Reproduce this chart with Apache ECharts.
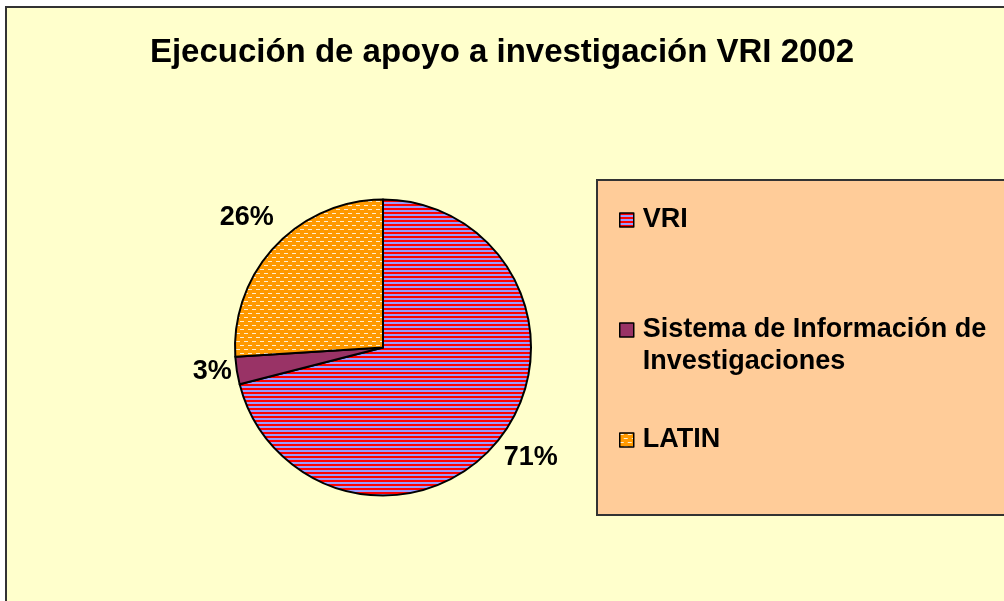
<!DOCTYPE html>
<html>
<head>
<meta charset="utf-8">
<script src="https://cdn.jsdelivr.net/npm/echarts@6/dist/echarts.min.js"></script>
<style>
  html, body { margin: 0; padding: 0; background: #fff; }
  #chart { width: 1004px; height: 601px; }
</style>
</head>
<body>
<div id="chart"></div>
<script>
// datos del gráfico
const titleText = 'Ejecución de apoyo a investigación VRI 2002';
const categories = ['VRI', 'Sistema de Información de Investigaciones', 'LATIN'];
const values = [71, 3, 26];
// línea vacía inicial: deja la primera línea de texto a la altura del icono
const legendLabels = ['VRI', '\nSistema de Información de\nInvestigaciones', 'LATIN'];

const FONT = '"Liberation Sans", Arial, sans-serif';

/**
 * Tramas de relleno (rayas, ladrillos)
 */
function stripePattern() {
    const c = document.createElement('canvas');
    c.width = 4; c.height = 4;
    const ctx = c.getContext('2d');
    ctx.fillStyle = '#9999FF';
    ctx.fillRect(0, 0, 4, 4);
    ctx.fillStyle = '#FF0000';
    ctx.fillRect(0, 0, 4, 2);
    return c;
}

function brickPattern() {
    const c = document.createElement('canvas');
    c.width = 8; c.height = 8;
    const ctx = c.getContext('2d');
    ctx.fillStyle = '#FF9900';
    ctx.fillRect(0, 0, 8, 8);
    ctx.fillStyle = '#FFEFD0';
    ctx.fillRect(0, 1, 4, 1);
    ctx.fillRect(4, 5, 4, 1);
    return c;
}

const sliceColors = [
    { image: stripePattern(), repeat: 'repeat' },
    '#993366',
    { image: brickPattern(), repeat: 'repeat' }
];

// pequeños ajustes de las etiquetas de porcentaje
const labelNudge = [[0, -5], [14, -5], [0, -2]];

const center = [383, 347.5];
const radius = 148;

const pieData = categories.map((name, i) => ({
    name: name,
    value: values[i],
    itemStyle: { color: sliceColors[i] }
}));

function legendFor(idx, top) {
    return {
        orient: 'vertical',
        left: 619,
        top: top,
        padding: 0,
        icon: 'rect',
        itemWidth: 14,
        itemHeight: 14,
        itemStyle: { borderColor: '#000', borderWidth: 1.5 },
        data: [categories[idx]],
        formatter: name => legendLabels[categories.indexOf(name)],
        textStyle: {
            fontFamily: FONT,
            fontSize: 27,
            fontWeight: 'bold',
            color: '#000',
            lineHeight: 32,
            padding: [0, 0, 0, 4]
        }
    };
}

const chart = echarts.init(document.getElementById('chart'));

chart.setOption({
    backgroundColor: '#fff',
    animation: false,
    title: {
        text: titleText,
        left: 'center',
        top: 28,
        textStyle: {
            fontFamily: FONT,
            fontSize: 33,
            fontWeight: 'bold',
            color: '#000',
            lineHeight: 40
        }
    },
    graphic: [
        {
            type: 'rect',
            z: -10,
            shape: { x: 6, y: 7, width: 1100, height: 700 },
            style: { fill: '#FFFFCC', stroke: '#333', lineWidth: 2 }
        },
        {
            type: 'rect',
            z: -5,
            shape: { x: 597, y: 180, width: 500, height: 335 },
            style: { fill: '#FFCC99', stroke: '#333', lineWidth: 2 }
        }
    ],
    legend: [
        legendFor(0, 204),
        legendFor(1, 282),
        legendFor(2, 424)
    ],
    series: [
        {
            type: 'pie',
            center: center,
            radius: radius,
            startAngle: 90,
            clockwise: true,
            data: pieData,
            label: { show: false },
            labelLine: { show: false },
            itemStyle: { borderColor: '#000', borderWidth: 2 },
            emphasis: { disabled: true }
        },
        {
            // serie fantasma sólo para colocar las etiquetas de porcentaje
            type: 'pie',
            silent: true,
            center: center,
            radius: [radius, radius + 72],
            startAngle: 90,
            clockwise: true,
            data: categories.map((name, i) => ({ name: name, value: values[i] })),
            itemStyle: { color: 'transparent', borderWidth: 0 },
            label: {
                show: true,
                position: 'inside',
                formatter: '{d}%',
                fontFamily: FONT,
                fontSize: 27,
                fontWeight: 'bold',
                color: '#000'
            },
            labelLayout: params => ({
                dx: labelNudge[params.dataIndex][0],
                dy: labelNudge[params.dataIndex][1]
            }),
            labelLine: { show: false },
            emphasis: { disabled: true }
        }
    ]
});
</script>
</body>
</html>
